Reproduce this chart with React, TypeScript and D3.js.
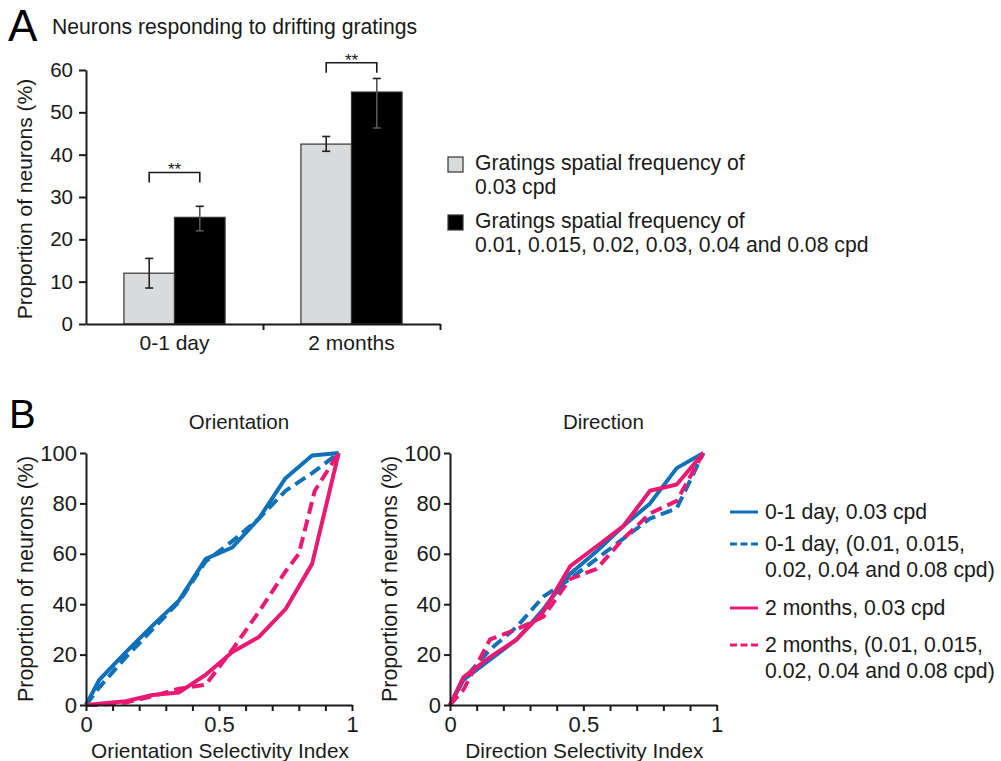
import { useEffect, useRef } from 'react';
import * as d3 from 'd3';

const FONT = "'Liberation Sans', Arial, Helvetica, sans-serif";
const INK = '#1a1a1a';
const BLUE = '#0f71b8';
const PINK = '#ea1a72';
const LIGHT = '#d9dadc';

// Panel A: neurons responding to drifting gratings
const ageGroups = ['0-1 day', '2 months'];
const gratingSets = ['single', 'multi'];
const singleFreqValues = [12, 42.5];
const multiFreqValues = [25.2, 54.8];
const singleFreqErr = [[8.5, 15.5], [40.8, 44.3]];
const multiFreqErr = [[22, 27.8], [46.3, 58]];
const sigBracketTop = [35.8, 61.7];
const sigLabels = ['**', '**'];
const barTicks = [0, 10, 20, 30, 40, 50, 60];
const barLegendFills = [LIGHT, '#000'];
const barLegendLines = [
  ['Gratings spatial frequency of', '0.03 cpd'],
  ['Gratings spatial frequency of', '0.01, 0.015, 0.02, 0.03, 0.04 and 0.08 cpd'],
];

// Panel B: cumulative selectivity curves, [index, % neurons]
const osiYoung03 = [[0, 0], [0.05, 10], [0.15, 21], [0.25, 31.5], [0.35, 41.5], [0.45, 58], [0.55, 62.5], [0.65, 74], [0.75, 90], [0.85, 99], [0.95, 100]];
const osiYoungMulti = [[0, 0], [0.05, 7], [0.15, 19], [0.25, 30], [0.35, 41], [0.45, 57], [0.55, 65], [0.65, 74], [0.75, 85], [0.85, 92], [0.95, 100]];
const osiAdult03 = [[0, 0], [0.05, 0.5], [0.15, 1.5], [0.25, 4], [0.35, 5], [0.45, 12], [0.55, 21], [0.65, 27], [0.75, 38], [0.85, 56], [0.95, 100]];
const osiAdultMulti = [[0, 0], [0.05, 0], [0.15, 1], [0.25, 3.5], [0.35, 6.5], [0.45, 8], [0.55, 22], [0.65, 37], [0.75, 53], [0.8, 60], [0.86, 85], [0.95, 100]];

const dsiYoung03 = [[0, 0], [0.05, 10], [0.15, 18], [0.25, 26], [0.35, 38], [0.45, 52], [0.55, 61], [0.65, 71], [0.75, 80], [0.85, 94], [0.95, 100]];
const dsiYoungMulti = [[0, 0], [0.05, 10], [0.15, 22], [0.25, 31], [0.35, 43], [0.45, 50], [0.55, 58], [0.65, 66], [0.75, 74], [0.85, 78], [0.95, 100]];
const dsiAdult03 = [[0, 0], [0.05, 11], [0.15, 19], [0.25, 26], [0.35, 37], [0.45, 55], [0.55, 63], [0.65, 71], [0.75, 85], [0.85, 87.5], [0.95, 100]];
const dsiAdultMulti = [[0, 0], [0.05, 6], [0.15, 26], [0.25, 30], [0.35, 35], [0.45, 50], [0.55, 54], [0.65, 66], [0.75, 76], [0.85, 81], [0.95, 100]];

const curveTicksY = [0, 20, 40, 60, 80, 100];
const curveTicksX = d3.range(0, 11).map(i => i / 10);
const curveLabelsX = [0, 0.5, 1];

const curveLegend = [
  { color: BLUE, dashed: false, lines: ['0-1 day, 0.03 cpd'] },
  { color: BLUE, dashed: true, lines: ['0-1 day, (0.01, 0.015,', '0.02, 0.04 and 0.08 cpd)'] },
  { color: PINK, dashed: false, lines: ['2 months, 0.03 cpd'] },
  { color: PINK, dashed: true, lines: ['2 months, (0.01, 0.015,', '0.02, 0.04 and 0.08 cpd)'] },
];

const styleAxis = (g: any, fontSize: number) => {
  g.select('.domain').attr('stroke', INK).attr('stroke-width', 2);
  g.selectAll('.tick line').attr('stroke', INK).attr('stroke-width', 2);
  g.selectAll('.tick text')
    .attr('fill', INK)
    .style('font-family', FONT)
    .style('font-size', `${fontSize}px`);
};

const drawBars = (svg: any) => {
  const y = d3.scaleLinear().domain([0, 60]).range([324, 70]);
  const x0 = d3.scaleBand().domain(ageGroups).range([86, 440]).paddingInner(0).paddingOuter(0);
  const x1 = d3.scaleBand().domain(gratingSets).range([0, x0.bandwidth()]).paddingInner(0).paddingOuter(0.75);

  svg.append('text').attr('x', 8).attr('y', 41)
    .style('font-family', FONT).style('font-size', '44px').attr('fill', '#000').text('A');
  svg.append('text').attr('x', 52).attr('y', 34)
    .style('font-family', FONT).style('font-size', '21.2px').attr('fill', INK)
    .text('Neurons responding to drifting gratings');

  const rows = ageGroups.map((g, i) => ({
    group: g,
    bars: [
      { key: 'single', value: singleFreqValues[i], err: singleFreqErr[i], fill: LIGHT },
      { key: 'multi', value: multiFreqValues[i], err: multiFreqErr[i], fill: '#000' },
    ],
  }));

  const groups = svg.append('g').selectAll('g').data(rows).join('g')
    .attr('transform', (d: any) => `translate(${x0(d.group)},0)`);

  groups.selectAll('rect').data((d: any) => d.bars).join('rect')
    .attr('x', (d: any) => x1(d.key))
    .attr('y', (d: any) => y(d.value))
    .attr('width', x1.bandwidth())
    .attr('height', (d: any) => y(0) - y(d.value))
    .attr('fill', (d: any) => d.fill)
    .attr('stroke', '#333')
    .attr('stroke-width', 1.2);

  const errG = groups.selectAll('g.err').data((d: any) => d.bars).join('g').attr('class', 'err')
    .attr('stroke', (d: any) => (d.key === 'multi' ? '#555' : '#222'))
    .attr('stroke-width', 1.6);
  const cx = (d: any) => (x1(d.key) as number) + x1.bandwidth() / 2;
  errG.append('line').attr('x1', cx).attr('x2', cx)
    .attr('y1', (d: any) => y(d.err[0])).attr('y2', (d: any) => y(d.err[1]));
  errG.append('line').attr('x1', (d: any) => cx(d) - 4).attr('x2', (d: any) => cx(d) + 4)
    .attr('y1', (d: any) => y(d.err[0])).attr('y2', (d: any) => y(d.err[0]));
  errG.append('line').attr('x1', (d: any) => cx(d) - 4).attr('x2', (d: any) => cx(d) + 4)
    .attr('y1', (d: any) => y(d.err[1])).attr('y2', (d: any) => y(d.err[1]))
    .attr('stroke', '#222');

  // significance brackets
  ageGroups.forEach((g, i) => {
    const xa = (x0(g) as number) + (x1('single') as number) + x1.bandwidth() / 2;
    const xb = (x0(g) as number) + (x1('multi') as number) + x1.bandwidth() / 2;
    const yt = y(sigBracketTop[i]);
    svg.append('path')
      .attr('d', `M${xa},${yt + 10}V${yt}H${xb}V${yt + 10}`)
      .attr('fill', 'none').attr('stroke', INK).attr('stroke-width', 1.6);
    svg.append('text').attr('x', (xa + xb) / 2).attr('y', yt + 3)
      .attr('text-anchor', 'middle')
      .style('font-family', FONT).style('font-size', '17px').attr('fill', INK)
      .text(sigLabels[i]);
  });

  const yAxis = svg.append('g').attr('transform', 'translate(86,0)')
    .call(d3.axisLeft(y).tickValues(barTicks).tickSize(7).tickPadding(6).tickSizeOuter(0));
  styleAxis(yAxis, 20.5);

  const edge = d3.scaleLinear().domain([0, 2]).range([86, 440]);
  const xAxis = svg.append('g').attr('transform', 'translate(0,324)')
    .call(d3.axisBottom(edge).tickValues([1, 2]).tickFormat(() => '').tickSize(6).tickSizeOuter(0));
  styleAxis(xAxis, 20);

  const catAxis = svg.append('g').attr('transform', 'translate(0,324)')
    .call(d3.axisBottom(x0).tickSize(0).tickPadding(11));
  catAxis.select('.domain').remove();
  styleAxis(catAxis, 21);

  svg.append('text')
    .attr('transform', 'translate(32,199) rotate(-90)')
    .attr('text-anchor', 'middle')
    .style('font-family', FONT).style('font-size', '21px').attr('fill', INK)
    .text('Proportion of neurons (%)');

  // legend
  const legTop = [157, 215];
  barLegendLines.forEach((lines, i) => {
    svg.append('rect').attr('x', 448).attr('y', legTop[i]).attr('width', 15).attr('height', 15)
      .attr('fill', barLegendFills[i]).attr('stroke', '#333').attr('stroke-width', 1.2);
    lines.forEach((t, j) => {
      svg.append('text').attr('x', 475).attr('y', legTop[i] + 12.5 + j * 24)
        .style('font-family', FONT).style('font-size', '21.2px').attr('fill', INK).text(t);
    });
  });
};

const drawCurves = (
  svg: any,
  left: number,
  right: number,
  title: string,
  xLabel: string,
  series: { data: number[][]; color: string; dashed: boolean }[],
) => {
  const x = d3.scaleLinear().domain([0, 1]).range([left, right]);
  const y = d3.scaleLinear().domain([0, 100]).range([705, 453]);

  svg.append('text').attr('x', (left + right) / 2 + 20).attr('y', 429)
    .attr('text-anchor', 'middle')
    .style('font-family', FONT).style('font-size', '20.5px').attr('fill', INK).text(title);

  const line = d3.line<number[]>().x(d => x(d[0])).y(d => y(d[1]));
  series.forEach(s => {
    svg.append('path').datum(s.data).attr('d', line)
      .attr('fill', 'none').attr('stroke', s.color).attr('stroke-width', 4)
      .attr('stroke-linejoin', 'round')
      .attr('stroke-dasharray', s.dashed ? '12,6' : null);
  });

  const yAxis = svg.append('g').attr('transform', `translate(${left},0)`)
    .call(d3.axisLeft(y).tickValues(curveTicksY).tickSize(6).tickPadding(3).tickSizeOuter(0));
  styleAxis(yAxis, 22);

  const xAxis = svg.append('g').attr('transform', 'translate(0,705)')
    .call(d3.axisBottom(x).tickValues(curveTicksX).tickSize(6).tickPadding(5).tickSizeOuter(0)
      .tickFormat((d: any) => (curveLabelsX.includes(+d) ? d3.format('')(+d) : '')));
  styleAxis(xAxis, 22);

  svg.append('text').attr('x', (left + right) / 2 + 1).attr('y', 758)
    .attr('text-anchor', 'middle')
    .style('font-family', FONT).style('font-size', '20.8px').attr('fill', INK).text(xLabel);

  svg.append('text')
    .attr('transform', `translate(${left - 53},579) rotate(-90)`)
    .attr('text-anchor', 'middle')
    .style('font-family', FONT).style('font-size', '21.5px').attr('fill', INK)
    .text('Proportion of neurons (%)');
};

const drawCurveLegend = (svg: any) => {
  const lineY = [512, 544, 608, 645];
  curveLegend.forEach((item, i) => {
    svg.append('line').attr('x1', 730).attr('x2', 758).attr('y1', lineY[i]).attr('y2', lineY[i])
      .attr('stroke', item.color).attr('stroke-width', 3)
      .attr('stroke-dasharray', item.dashed ? '7,3.5' : null);
    item.lines.forEach((t, j) => {
      svg.append('text').attr('x', 765).attr('y', lineY[i] + 6.5 + j * 26)
        .style('font-family', FONT).style('font-size', '21.2px').attr('fill', INK).text(t);
    });
  });
};

const App = () => {
  const ref = useRef<SVGSVGElement | null>(null);

  useEffect(() => {
    if (!ref.current) return;
    const svg = d3.select(ref.current);
    svg.selectAll('*').remove();

    drawBars(svg);

    svg.append('text').attr('x', 9).attr('y', 428)
      .style('font-family', FONT).style('font-size', '40px').attr('fill', '#000').text('B');

    drawCurves(svg, 86, 352, 'Orientation', 'Orientation Selectivity Index', [
      { data: osiYoung03, color: BLUE, dashed: false },
      { data: osiYoungMulti, color: BLUE, dashed: true },
      { data: osiAdultMulti, color: PINK, dashed: true },
      { data: osiAdult03, color: PINK, dashed: false },
    ]);
    drawCurves(svg, 450, 716.7, 'Direction', 'Direction Selectivity Index', [
      { data: dsiYoung03, color: BLUE, dashed: false },
      { data: dsiYoungMulti, color: BLUE, dashed: true },
      { data: dsiAdultMulti, color: PINK, dashed: true },
      { data: dsiAdult03, color: PINK, dashed: false },
    ]);
    drawCurveLegend(svg);
  }, []);

  return (
    <svg
      ref={ref}
      width={1001}
      height={761}
      style={{ position: 'absolute', left: 0, top: 0, background: '#fff' }}
    />
  );
};

export default App;
